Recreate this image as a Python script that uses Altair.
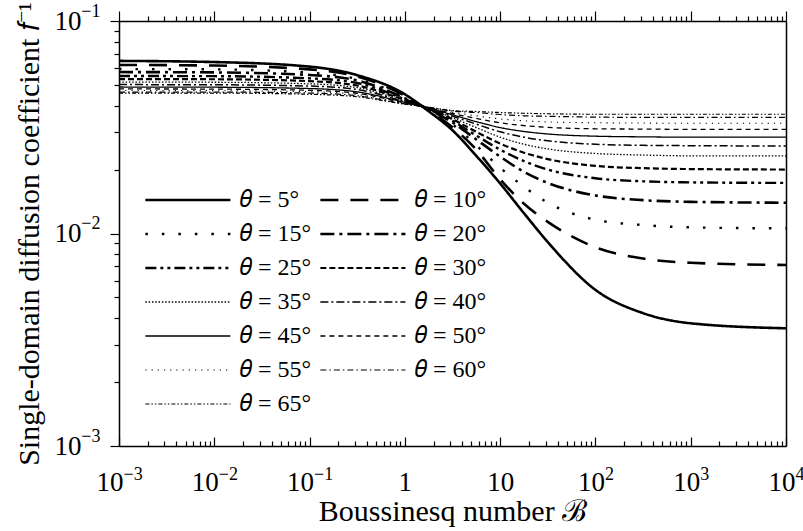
import altair as alt
import pandas as pd

# Boussinesq numbers at which the curves are sampled
boussinesq = [0.001, 0.01, 0.1, 0.316, 1, 1.78, 3.16, 5.62, 10, 17.8, 31.6, 100, 316, 1000, 10000]

# inclination angles (degrees)
angles = [5, 10, 15, 20, 25, 30, 35, 40, 45, 50, 55, 60, 65]

# single-domain diffusion coefficient f^-1 for each angle
f_05 = [0.0649, 0.0641, 0.0610, 0.0556, 0.0452, 0.0376, 0.0306, 0.0232, 0.0172, 0.01245, 0.00912, 0.00543, 0.00422, 0.00378, 0.00358]
f_10 = [0.0621, 0.0617, 0.0592, 0.0548, 0.0445, 0.0379, 0.0316, 0.0248, 0.0180, 0.0138, 0.01135, 0.00861, 0.00762, 0.00728, 0.00711]
f_15 = [0.0594, 0.0592, 0.0571, 0.0533, 0.0439, 0.0382, 0.0326, 0.0260, 0.0204, 0.0166, 0.01396, 0.01161, 0.01096, 0.01069, 0.01057]
f_20 = [0.0575, 0.0573, 0.0557, 0.0525, 0.0433, 0.0384, 0.0333, 0.0277, 0.0230, 0.0195, 0.0173, 0.0151, 0.01435, 0.01409, 0.01396]
f_25 = [0.0551, 0.0550, 0.0537, 0.0511, 0.0428, 0.0385, 0.0339, 0.0289, 0.0248, 0.0219, 0.0200, 0.0182, 0.0176, 0.0174, 0.0173]
f_30 = [0.0533, 0.0532, 0.0521, 0.0497, 0.0424, 0.0386, 0.0345, 0.0301, 0.0265, 0.0240, 0.0224, 0.0208, 0.0203, 0.0201, 0.0200]
f_35 = [0.0516, 0.0515, 0.0506, 0.0486, 0.0420, 0.0387, 0.0351, 0.0315, 0.0284, 0.0263, 0.0250, 0.0238, 0.0234, 0.0232, 0.0232]
f_40 = [0.0502, 0.0501, 0.0494, 0.0476, 0.0417, 0.0388, 0.0357, 0.0327, 0.0301, 0.0284, 0.0273, 0.0263, 0.0260, 0.0259, 0.0258]
f_45 = [0.0489, 0.0488, 0.0481, 0.0464, 0.0414, 0.0389, 0.0362, 0.0336, 0.0315, 0.0302, 0.0294, 0.0287, 0.0285, 0.0284, 0.0284]
f_50 = [0.0479, 0.0478, 0.0472, 0.0457, 0.0411, 0.0390, 0.0367, 0.0348, 0.0332, 0.0322, 0.0316, 0.0311, 0.0310, 0.0309, 0.0309]
f_55 = [0.0471, 0.0470, 0.0465, 0.0451, 0.0409, 0.0391, 0.0372, 0.0358, 0.0346, 0.0339, 0.0335, 0.0332, 0.0331, 0.0330, 0.0330]
f_60 = [0.0463, 0.0463, 0.0458, 0.0445, 0.0407, 0.0392, 0.0377, 0.0371, 0.0363, 0.0358, 0.0356, 0.0353, 0.0352, 0.0352, 0.0352]
f_65 = [0.0458, 0.0458, 0.0452, 0.0440, 0.0406, 0.0393, 0.0379, 0.0375, 0.0371, 0.0368, 0.0366, 0.0364, 0.0364, 0.0364, 0.0364]

series = [f_05, f_10, f_15, f_20, f_25, f_30, f_35, f_40, f_45, f_50, f_55, f_60, f_65]

# axis decades, split into base and superscript exponent
x_decades = [0.001, 0.01, 0.1, 1, 10, 100, 1000, 10000]
x_bases = ["10", "10", "10", "1", "10", "10", "10", "10"]
x_exp_decades = [0.001, 0.01, 0.1, 100, 1000, 10000]
x_exponents = ["−3", "−2", "−1", "2", "3", "4"]
y_decades = [0.001, 0.01, 0.1]
y_bases = ["10", "10", "10"]
y_exponents = ["−3", "−2", "−1"]

labels = [f"𝜃 = {a}°" for a in angles]

rows = []
for lab, ys in zip(labels, series):
    for b, v in zip(boussinesq, ys):
        rows.append({"B": b, "f": v, "curve": lab})
df = pd.DataFrame(rows)

# line styles, one per angle
dashes = [
    [1, 0], [18, 12], [2.5, 14], [14, 5, 3, 5], [11, 4, 3, 4, 3, 4], [6, 3],
    [1.5, 1.8], [8, 3, 2, 3], [1, 0], [5, 4], [1.2, 5], [6, 3, 1.5, 3],
    [4, 2, 1.5, 2, 1.5, 2],
]
widths = [2.6, 2.6, 2.4, 2.6, 2.4, 2.2, 1.3, 1.5, 1.3, 1.3, 1.1, 1.2, 1.2]


def with_minors(decades):
    vals = []
    for d in decades[:-1]:
        vals.extend(d * m for m in range(1, 10))
    vals.append(decades[-1])
    return vals


def label_expr(decades, texts):
    expr = "''"
    for d, t in reversed(list(zip(decades, texts))):
        expr = f"abs(datum.value - {d!r}) < {d * 1e-6!r} ? '{t}' : {expr}"
    return expr


x_ticks = with_minors(x_decades)
y_ticks = with_minors(y_decades)

W, H = 667, 425
FONT = "Liberation Serif"
BASE_SIZE, EXP_SIZE = 27, 18
MAJOR = "abs(log(datum.value)/LN10 - round(log(datum.value)/LN10)) < 1e-6"
NEG_EXP = "datum.value < 0.5"
POS_EXP = "datum.value > 50"


def tick_size(major, minor):
    return {"condition": {"test": MAJOR, "value": major}, "value": minor}


# horizontal shift so that base + exponent sit centred on the tick
x_shift = {"condition": [{"test": NEG_EXP, "value": 4}, {"test": POS_EXP, "value": 9}], "value": 0}

x_scale = alt.Scale(type="log", domain=[1e-3, 1e4], nice=False)
y_scale = alt.Scale(type="log", domain=[1e-3, 1e-1], nice=False)

legend = alt.Legend(
    title=None, orient="none", legendX=25, legendY=167, columns=2, direction="horizontal",
    symbolType="M-1,0L7,0", symbolSize=452, symbolStrokeColor="black",
    labelFont=FONT, labelFontSize=24, labelColor="black", labelOffset=72,
    rowPadding=10, columnPadding=3, padding=0,
)

base = alt.Chart(df)

curves = base.mark_line(interpolate="monotone", color="black").encode(
    x=alt.X(
        "B:Q", scale=x_scale,
        axis=alt.Axis(
            orient="bottom", values=x_decades, labelExpr=label_expr(x_decades, x_bases),
            ticks=False, grid=False, domain=True, domainColor="black", domainWidth=1.5,
            labelFont=FONT, labelFontSize=BASE_SIZE, labelColor="black", labelPadding=23,
            labelAlign={"condition": {"test": f"{NEG_EXP} || {POS_EXP}", "value": "right"}, "value": "center"},
            labelOffset=x_shift, labelFlush=False, labelOverlap=False,
            title="Boussinesq number ℬ", titleFont=FONT, titleFontSize=30,
            titleFontWeight="normal", titleColor="black", titleY=74, titleBaseline="alphabetic",
        ),
    ),
    y=alt.Y(
        "f:Q", scale=y_scale,
        axis=alt.Axis(
            orient="left", values=y_ticks, labels=False,
            tickSize=tick_size(9, 5), tickColor="black", tickWidth=1.2,
            grid=False, domain=True, domainColor="black", domainWidth=1.5,
            title="Single-domain diffusion coefficient 𝑓⁻¹", titleFont=FONT, titleFontSize=30,
            titleFontWeight="normal", titleColor="black",
            titleX=-81, titleY=H / 2, titleBaseline="alphabetic",
        ),
    ),
    strokeDash=alt.StrokeDash("curve:N", scale=alt.Scale(domain=labels, range=dashes), legend=legend),
    strokeWidth=alt.StrokeWidth("curve:N", scale=alt.Scale(type="ordinal", domain=labels, range=widths), legend=legend),
    detail="curve:N",
)

# exponents under the x axis, base numbers beside the y axis
labels_a = base.mark_point(opacity=0).encode(
    x=alt.X("B:Q", scale=x_scale, axis=alt.Axis(
        orient="bottom", values=x_exp_decades, labelExpr=label_expr(x_exp_decades, x_exponents),
        ticks=False, domain=False, grid=False, title=None,
        labelFont=FONT, labelFontSize=EXP_SIZE, labelColor="black", labelPadding=19,
        labelAlign="left", labelOffset=x_shift, labelFlush=False, labelOverlap=False)),
    y=alt.Y("f:Q", scale=y_scale, axis=alt.Axis(
        orient="left", values=y_decades, labelExpr=label_expr(y_decades, y_bases),
        ticks=False, domain=False, grid=False, title=None,
        labelFont=FONT, labelFontSize=BASE_SIZE, labelColor="black", labelPadding=38,
        labelAlign="right", labelBaseline="middle", labelFlush=False, labelOverlap=False)),
)

# outward ticks along the top edge, exponents beside the y axis
labels_b = base.mark_point(opacity=0).encode(
    x=alt.X("B:Q", scale=x_scale, axis=alt.Axis(
        orient="top", values=x_ticks, labels=False, ticks=True, tickSize=tick_size(10, 5),
        tickColor="black", tickWidth=1.2, domain=True, domainColor="black", domainWidth=1.5,
        grid=False, title=None)),
    y=alt.Y("f:Q", scale=y_scale, axis=alt.Axis(
        orient="left", values=y_decades, labelExpr=label_expr(y_decades, y_exponents),
        ticks=False, domain=False, grid=False, title=None,
        labelFont=FONT, labelFontSize=EXP_SIZE, labelColor="black", labelPadding=19,
        labelAlign="right", labelBaseline="middle", labelOffset=-10,
        labelFlush=False, labelOverlap=False)),
)

# inward ticks along the bottom edge, plain frame line on the right
frame = base.mark_point(opacity=0).encode(
    x=alt.X("B:Q", scale=x_scale, axis=alt.Axis(
        orient="top", offset=-H, values=x_ticks, labels=False, ticks=True, tickSize=tick_size(9, 5),
        tickColor="black", tickWidth=1.2, domain=False, grid=False, title=None)),
    y=alt.Y("f:Q", scale=y_scale, axis=alt.Axis(
        orient="right", ticks=False, labels=False, domain=True, domainColor="black",
        domainWidth=1.5, grid=False, title=None)),
)

chart = (
    alt.layer(curves, labels_a, labels_b, frame)
    .resolve_axis(x="independent", y="independent")
    .properties(
        width=W, height=H,
        padding={"left": 119, "top": 21, "right": 17, "bottom": 85},
        autosize=alt.AutoSizeParams(type="none"),
    )
    .configure(font=FONT, background="white")
    .configure_view(stroke=None)
)

chart.save("out.html", embed_options={"renderer": "svg", "actions": False})
